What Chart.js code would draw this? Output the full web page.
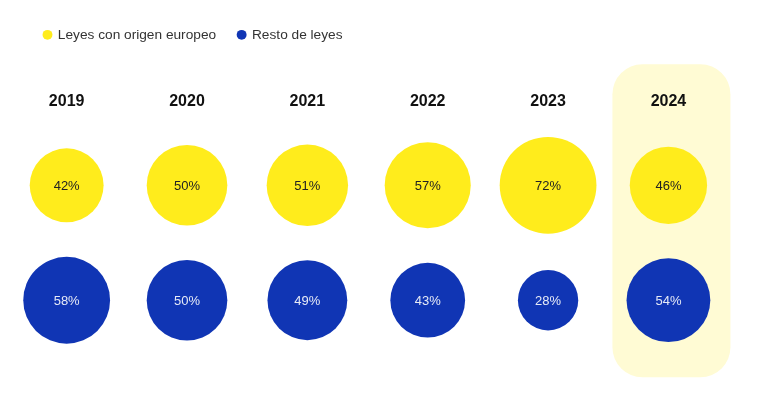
<!DOCTYPE html>
<html>
<head>
<meta charset="utf-8">
<script src="https://cdn.jsdelivr.net/npm/chart.js@4.4.1/dist/chart.umd.min.js"></script>
<style>
    html, body { margin: 0; padding: 0; background: #fff; }
    #wrap { width: 760px; height: 404px; }
</style>
</head>
<body>
<div id="wrap"><canvas id="bubbleChart"></canvas></div>
<script>
const years = ["2019", "2020", "2021", "2022", "2023", "2024"];
const europeo = [42, 50, 51, 57, 72, 46];
const resto = [58, 50, 49, 43, 28, 54];
const highlightYear = "2024";

const YELLOW = "#ffec1c";
const BLUE = "#1035b4";

// bubble area proportional to the share
const radiusFor = (v) => 57 * Math.sqrt(v / 100);

const highlightPlugin = {
    id: "highlight",
    beforeDraw(chart) {
        const { ctx, scales } = chart;
        const i = years.indexOf(highlightYear);
        const cx = scales.x.getPixelForValue(i);
        const top = scales.y.getPixelForValue(1) - 121;
        const bottom = scales.y.getPixelForValue(0) + 77;
        ctx.save();
        ctx.fillStyle = "#fffbd4";
        ctx.beginPath();
        ctx.roundRect(cx - 56, top, 118, bottom - top, 30);
        ctx.fill();
        ctx.restore();
    }
};

const valueLabels = {
    id: "valueLabels",
    afterDatasetsDraw(chart) {
        const { ctx } = chart;
        ctx.save();
        ctx.font = "13px 'Liberation Sans', Arial, sans-serif";
        ctx.textAlign = "center";
        ctx.textBaseline = "middle";
        chart.data.datasets.forEach((ds, di) => {
            chart.getDatasetMeta(di).data.forEach((pt, i) => {
                ctx.fillStyle = di === 0 ? "#222" : "#e6eaf6";
                ctx.fillText(ds.values[i] + "%", pt.x, pt.y + 1);
            });
        });
        ctx.restore();
    }
};

new Chart(document.getElementById("bubbleChart"), {
    type: "bubble",
    data: {
        datasets: [
            {
                label: "Leyes con origen europeo",
                values: europeo,
                data: europeo.map((v, i) => ({ x: i, y: 1 })),
                backgroundColor: YELLOW,
                borderWidth: 0,
                clip: false,
                radius: (c) => radiusFor(europeo[c.dataIndex])
            },
            {
                label: "Resto de leyes",
                values: resto,
                data: resto.map((v, i) => ({ x: i, y: 0 })),
                backgroundColor: BLUE,
                borderWidth: 0,
                clip: false,
                radius: (c) => radiusFor(resto[c.dataIndex])
            }
        ]
    },
    options: {
        responsive: true,
        maintainAspectRatio: false,
        animation: false,
        layout: { padding: { left: 22, right: 32, top: 6, bottom: 20 } },
        plugins: {
            legend: {
                position: "top",
                align: "start",
                labels: {
                    usePointStyle: true,
                    pointStyle: "circle",
                    boxWidth: 7,
                    boxHeight: 7,
                    color: "#333",
                    padding: 22,
                    font: { family: "'Liberation Sans', Arial, sans-serif", size: 13.7 }
                }
            },
            tooltip: { enabled: false }
        },
        scales: {
            x: {
                type: "linear",
                position: "top",
                min: -0.152,
                max: 5.359,
                grid: { display: false },
                border: { display: false },
                afterBuildTicks: (axis) => { axis.ticks = years.map((y, i) => ({ value: i })); },
                afterFit: (axis) => { axis.height = 79; },
                ticks: {
                    callback: (v) => years[v],
                    color: "#111",
                    padding: 12,
                    font: { family: "'Liberation Sans', Arial, sans-serif", size: 16, weight: "bold" }
                }
            },
            y: {
                min: -0.482,
                max: 1.475,
                display: false
            }
        }
    },
    plugins: [highlightPlugin, valueLabels]
});
</script>
</body>
</html>
